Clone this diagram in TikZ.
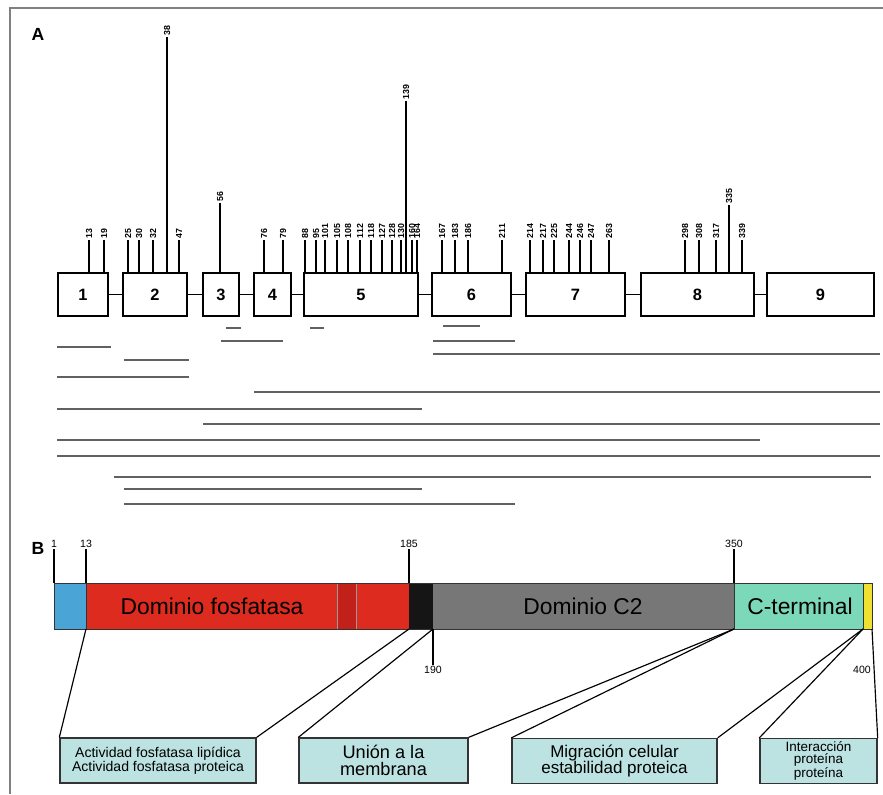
\documentclass[tikz,border=0pt]{standalone}
\usepackage{fontspec}
\setmainfont{Liberation Sans}
\usetikzlibrary{positioning}
\definecolor{ptenblue}{HTML}{4AA5D6}
\definecolor{ptenred}{HTML}{DD2B1F}
\definecolor{ptendark}{HTML}{C2211A}
\definecolor{ptenblack}{HTML}{151515}
\definecolor{ptengray}{HTML}{777777}
\definecolor{ptenteal}{HTML}{7BD9BA}
\definecolor{ptenyellow}{HTML}{F0E030}
\definecolor{calloutfill}{HTML}{BCE2E2}
\tikzset{
  exon/.style={draw,line width=0.4mm,minimum width=#1*0.3mm,minimum height=43*0.3mm,
    inner sep=0pt,font=\bfseries\fontsize{14}{14}\selectfont},
  tick/.style={line width=0.35mm},
  numlab/.style={rotate=90,anchor=west,inner sep=1pt,font=\bfseries\fontsize{7.5}{7.5}\selectfont},
  frag/.style={line width=0.65mm,draw=black!62},
  poslab/.style={inner sep=1pt,font=\fontsize{9}{9}\selectfont},
  domlab/.style={font=\fontsize{19.5}{20}\selectfont},
  callout/.style={draw=black!80,line width=0.4mm,fill=calloutfill,align=center,
    minimum width=#1*0.3mm,minimum height=45*0.3mm,inner sep=0pt},
  panel/.style={font=\bfseries\fontsize{15}{15}\selectfont}
}
\begin{document}
\begin{tikzpicture}[x=0.3mm,y=-0.3mm]
\useasboundingbox (0,0) rectangle (883,794);
\draw[line width=0.6mm,gray] (10,794) -- (10,8) -- (883,8);

\node[panel] (pA) at (38,34) {A};
\foreach \n/\cx/\w in {1/83/50,2/155/64,3/221/36,4/272.5/37,5/361/114,
  6/471.5/79,7/575.5/99,8/697.5/113,9/820.5/107}
  \node[exon=\w] (e\n) at (\cx,294.5) {\n};
\foreach \a/\b in {1/2,2/3,3/4,4/5,5/6,6/7,7/8,8/9}
  \draw[line width=0.4mm] (e\a) -- (e\b);

\foreach \x/\lab in {89/13,104/19,128/25,139/30,153/32,179/47,264/76,283/79,
  305/88,316/95,325/101,337/105,348/108,360/112,371/118,382/127,392/128,
  401/130,412/160,417/164,442/167,455/183,468/186,502/211,530/214,543/217,
  554/225,569/244,580/246,591/247,609/263,685/298,699/308,716/317,742/339}
  \draw[tick] (\x,273) -- (\x,240) node[numlab] (n\lab) {\lab};
\foreach \x/\top/\lab in {167/37/38,220/203/56,406/101/139,729/205/335}
  \draw[tick] (\x,273) -- (\x,\top) node[numlab] (n\lab) {\lab};

\foreach \xa/\xb/\y in {226/241/328,310/324/328,443/480/326,221/283/341,
  433/515/341,57/111/347,433/880/354,124/189/360,57/189/377,254/880/392,
  57/422/409,203/880/424,57/760/440,57/880/456,114/871/477,124/422/489,
  124/515/504}
  \draw[frag] (\xa,\y) -- (\xb,\y);

\node[panel] (pB) at (38,548) {B};
\fill[ptenblue] (54,583) rectangle (86,629);
\fill[ptenred] (86,583) rectangle (409,629);
\filldraw[fill=ptendark,draw=black!40,line width=0.2mm] (337,583) rectangle (356,629);
\fill[ptenblack] (409,583) rectangle (433,629);
\fill[ptengray] (433,583) rectangle (734,629);
\fill[ptenteal] (734,583) rectangle (863,629);
\fill[ptenyellow] (863,583) rectangle (872,629);
\draw[line width=0.3mm,black!80] (54,583) rectangle (872,629);
\draw[line width=0.2mm,black!80] (86,583) -- (86,629) (734,583) -- (734,629) (863,583) -- (863,629);

\node[domlab] (fosfa) at (212,606) {Dominio fosfatasa};
\node[domlab] (c2) at (583,606) {Dominio C2};
\node[domlab] (cterm) at (800,606) {C-terminal};

\foreach \x/\lab in {54/1,86/13,409/185,734/350}
  \draw[tick] (\x,583) -- (\x,549) node[poslab,above] (b\lab) {\lab};
\node[poslab] (b190) at (433,670) {190};
\node[poslab] (b400) at (862,670) {400};
\draw[tick] (433,629) -- (b190);

\coordinate (p13) at (86,629);
\coordinate (p185) at (409,629);
\coordinate (p190) at (433,629);
\coordinate (p350) at (734,629);
\coordinate (p393) at (863,629);
\coordinate (p400) at (872,629);

\node[callout=196,font=\fontsize{12}{12.2}\selectfont] (fos) at (158,760.5)
  {Actividad fosfatasa lipídica\\Actividad fosfatasa proteica};
\node[callout=169,font=\fontsize{15.5}{14.5}\selectfont] (mem) at (383.5,760.5)
  {Unión a la\\membrana};
\node[callout=205,font=\fontsize{14.5}{13.6}\selectfont] (mig) at (614.5,761)
  {Migración celular\\estabilidad proteica};
\node[callout=117,font=\fontsize{11.5}{10.8}\selectfont] (int) at (818.5,761)
  {Interacción\\proteína\\proteína};

\draw[tick] (p13) -- (fos.north west);
\draw[tick] (p185) -- (fos.north east);
\draw[tick] (p190) -- (mem.north west);
\draw[tick] (p350) -- (mem.north east);
\draw[tick] (p350) -- (mig.north west);
\draw[tick] (p393) -- (mig.north east);
\draw[tick] (p393) -- (int.north west);
\draw[tick] (p400) -- (int.north east);
\end{tikzpicture}
\end{document}
